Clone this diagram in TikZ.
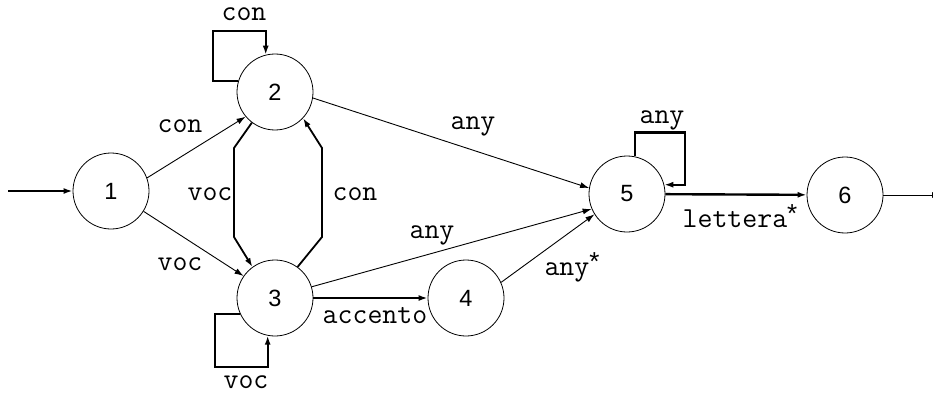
\documentclass[tikz,border=0pt]{standalone}
\usepackage{fontspec}
\setsansfont{Liberation Sans}
\usetikzlibrary{arrows.meta,calc}
% superscript star used in the edge labels
\newcommand\kstar{\raisebox{5pt}{\sffamily\fontsize{26}{26}\selectfont *}}
\begin{document}
\begin{tikzpicture}[x=1pt,y=-1pt,
  state/.style={circle,draw,line width=0.8pt,minimum size=76pt,inner sep=0pt,
    font=\sffamily\fontsize{23.5}{23.5}\selectfont},
  tip/.style={-{Latex[length=9pt,width=6pt]}},
  edge/.style={tip,line width=0.9pt},
  heavy/.style={tip,line width=2.4pt},
  bent/.style={tip,line width=1.8pt},
  selfloop/.style={tip,line width=2.2pt},
  lbl/.style={anchor=base,inner sep=0pt,font=\ttfamily\fontsize{29}{29}\selectfont}]
\useasboundingbox (0,0) rectangle (933,393);

% states
\node[state] (n1) at (111,191) {1};
\node[state] (n2) at (275,92)  {2};
\node[state] (n3) at (275,298) {3};
\node[state] (n4) at (466,298) {4};
\node[state] (n5) at (627,194) {5};
\node[state] (n6) at (845,195) {6};

% entry and exit
\coordinate (start) at (8,191);
\coordinate (stop) at (941,195);
\draw[heavy] (start) -- (n1);
\draw[edge] (n6) -- (stop);

% straight transitions
\draw[edge] (n1.20) -- (n2.220);
\draw[edge] (n1.328) -- (n3.145);
\draw[edge] (n2.351) -- (n5.171);
\draw[edge] (n3.17) -- (n5.203);
\draw[edge] (n4.24) -- (n5.212);
\draw[heavy] (n3) -- (n4);
\draw[heavy] (n5) -- (n6);

% transitions between 2 and 3
\draw[bent] (n2.233) -- (234,148) -- (234,237) -- (n3.126);
\draw[bent] (n3.54) -- (322,237) -- (322,148) -- (n2.317);

% self loops
\draw[selfloop] (n2.163) -- ++(-25,0) |- ($(n2.104)+(0,-24)$) -- (n2.104);
\draw[selfloop] (n3.204) -- ++(-25,0) |- ($(n3.259)+(0,31)$) -- (n3.259);
\draw[selfloop] (n5.78) -- ++(0,-24) -| ($(n5.14)+(21,0)$) -- (n5.14);

% labels
\node[lbl] (l22) at (244,21)  {con};
\node[lbl] (l12) at (180,132) {con};
\node[lbl] (l13) at (180,270) {voc};
\node[lbl] (l23) at (210,200) {voc};
\node[lbl] (l32) at (355,200) {con};
\node[lbl] (l33) at (246,388) {voc};
\node[lbl] (l25) at (473,129) {any};
\node[lbl] (l35) at (432,238) {any};
\node[lbl] (l34) at (375,323) {accento};
\node[lbl] (l45) at (572,275) {any\kstar};
\node[lbl] (l55) at (662,123) {any};
\node[lbl] (l56) at (740,227) {lettera\kstar};
\end{tikzpicture}
\end{document}
